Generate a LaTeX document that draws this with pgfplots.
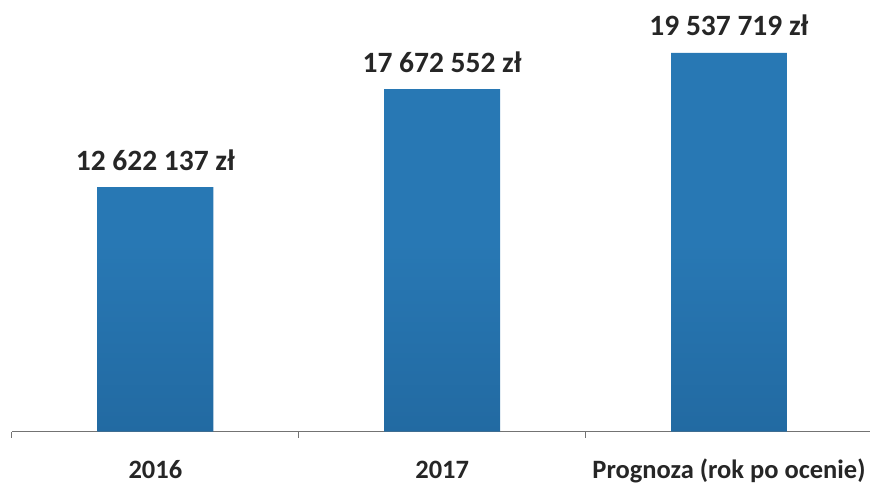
\documentclass[border=0pt]{standalone}
\usepackage{pgfplots}
\pgfplotsset{compat=1.18}
\usepackage{fontspec}
\setmainfont{Carlito}
\definecolor{barblue}{RGB}{40,120,180}
\definecolor{barbluedark}{RGB}{34,106,162}
\definecolor{txt}{RGB}{38,38,38}
\pgfplotstableread{
x y lab
0 12622137 {12 622 137 zł}
1 17672552 {17 672 552 zł}
2 19537719 {19 537 719 zł}
}\datatab
\begin{document}
\begin{tikzpicture}
\begin{axis}[
  scale only axis, width=858pt, height=432pt,
  xmin=-0.5, xmax=2.49, ymin=0, ymax=22270000,
  axis x line*=bottom, axis y line=none,
  x axis line style={draw=black!55, line width=1pt, -},
  ybar, bar width=116pt,
  xtick={0,1,2}, xticklabels={2016,2017,Prognoza (rok po ocenie)},
  major x tick style={draw=none},
  extra x ticks={-0.5,0.5,1.5},
  extra x tick labels={},
  extra x tick style={tick align=outside, major tick length=6pt, major x tick style={draw=black!55, line width=1pt}},
  xticklabel style={font=\fontsize{26.5}{28}\selectfont\bfseries, text=txt, anchor=base, yshift=-43pt},
  nodes near coords,
  point meta=explicit symbolic,
  nodes near coords style={font=\fontsize{29.5}{31}\selectfont\bfseries, text=txt, anchor=base, inner sep=0pt, yshift=17pt},
  clip=false,
]
\addplot[draw=none, top color=barblue, bottom color=barbluedark, middle color=barblue] table[x=x, y=y, meta=lab] {\datatab};
\end{axis}
\path[use as bounding box] (-12pt,-46pt) rectangle (858pt,432pt);
\end{tikzpicture}
\end{document}
